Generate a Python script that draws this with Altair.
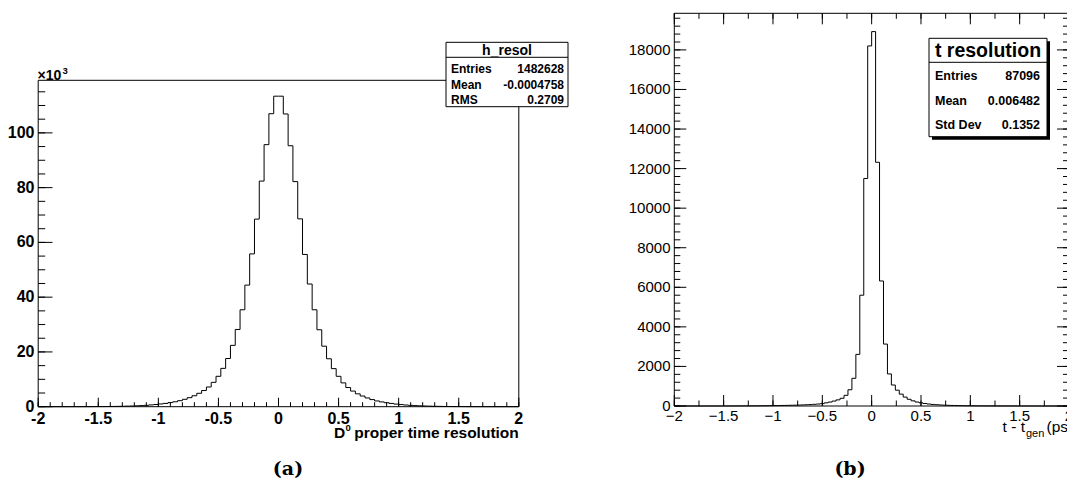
import altair as alt
import pandas as pd

# ---------------- data ----------------
bin_width = 0.04
x_lo = -2.0

# panel (a): entries per bin (x10^3), bins of 0.04 from -2 to 0 and from 0 to 2
a_counts_neg = [0, 0.001, 0.001, 0.002, 0.003, 0.004, 0.006, 0.008, 0.01, 0.015,
                0.02, 0.03, 0.04, 0.05, 0.07, 0.09, 0.12, 0.15, 0.2, 0.25,
                0.32, 0.4, 0.5, 0.65, 0.8, 1.0, 1.2, 1.5, 1.8, 2.2,
                2.7, 3.3, 4.0, 4.9, 5.9, 7.2, 8.9, 11.1, 14.0, 17.6,
                22.4, 28.2, 35.4, 44.4, 55.8, 68.5, 82.4, 95.7, 107.0, 113.4]
a_counts_pos = [113.4, 106.9, 95.3, 82.2, 68.6, 55.6, 44.8, 35.4, 28.1, 22.1,
                17.5, 13.9, 11.1, 8.7, 7.0, 5.7, 4.7, 3.9, 3.2, 2.6,
                2.1, 1.75, 1.45, 1.2, 0.95, 0.78, 0.62, 0.5, 0.4, 0.32,
                0.25, 0.2, 0.15, 0.12, 0.09, 0.07, 0.05, 0.04, 0.03, 0.02,
                0.015, 0.01, 0.008, 0.006, 0.004, 0.003, 0.002, 0.001, 0.001, 0]

# panel (b): entries per bin, bins of 0.04
b_counts_neg = [0, 0, 0, 0, 0, 0, 0, 1, 1, 1,
                1, 1, 2, 2, 3, 3, 4, 5, 6, 7,
                8, 10, 12, 14, 17, 20, 23, 27, 31, 36,
                41, 47, 54, 62, 72, 85, 100, 120, 160, 200,
                250, 310, 390, 540, 820, 1400, 2610, 5600, 11500, 18200]
b_counts_pos = [18925, 12320, 6320, 3130, 1620, 1060, 800, 600, 450, 340,
                260, 200, 160, 125, 100, 80, 65, 52, 42, 34,
                28, 23, 19, 15, 12, 10, 8, 7, 6, 5,
                4, 3, 3, 2, 2, 1, 1, 1, 1, 1,
                0, 0, 0, 0, 0, 0, 0, 0, 0, 0]

a_xtick_values = [-2, -1.5, -1, -0.5, 0, 0.5, 1, 1.5, 2]
a_xtick_labels = ["-2", "-1.5", "-1", "-0.5", "0", "0.5", "1", "1.5", "2"]
a_ytick_values = [0, 20, 40, 60, 80, 100]
a_ytick_labels = ["0", "20", "40", "60", "80", "100"]

b_xtick_values = [-2, -1.5, -1, -0.5, 0, 0.5, 1, 1.5, 2]
b_xtick_labels = ["\u22122", "\u22121.5", "\u22121", "\u22120.5", "0", "0.5", "1", "1.5", "2"]
b_ytick_values = [0, 2000, 4000, 6000, 8000, 10000, 12000, 14000, 16000, 18000]
b_ytick_labels = ["0", "2000", "4000", "6000", "8000", "10000", "12000", "14000", "16000", "18000"]

a_stats_title = "h_resol"
a_stats_names = ["Entries", "Mean", "RMS"]
a_stats_values = ["1482628", "-0.0004758", "0.2709"]
b_stats_title = "t resolution"
b_stats_names = ["Entries", "Mean", "Std Dev"]
b_stats_values = ["87096", "0.006482", "0.1352"]

SANS = "Liberation Sans"
SERIF = "DejaVu Serif"

# ---------------- scales ----------------
XA = alt.Scale(domain=[-2, 2], range=[38.2, 518.8], nice=False, zero=False)
YA = alt.Scale(domain=[0, 119.2], range=[406.7, 80.3], nice=False, zero=False)
XB = alt.Scale(domain=[-2, 2], range=[674.3, 1069.0], nice=False, zero=False)
YB = alt.Scale(domain=[0, 19850], range=[406.0, 13.3], nice=False, zero=False)


def hist_df(counts):
    edges = [round(x_lo + i * bin_width, 4) for i in range(len(counts) + 1)]
    return pd.DataFrame({"x": edges, "y": list(counts) + [counts[-1]]})


def hist(counts, xs, ys):
    return alt.Chart(hist_df(counts)).mark_line(
        interpolate="step-after", color="black", strokeWidth=1
    ).encode(x=alt.X("x:Q", scale=xs, axis=None), y=alt.Y("y:Q", scale=ys, axis=None))


def frame(xs, ys, top):
    df = pd.DataFrame({"x1": [-2], "x2": [2], "y1": [0], "y2": [top]})
    return alt.Chart(df).mark_rect(fillOpacity=0, stroke="black", strokeWidth=1).encode(
        x=alt.X("x1:Q", scale=xs, axis=None), x2="x2:Q",
        y=alt.Y("y1:Q", scale=ys, axis=None), y2="y2:Q")


def xticks(vals, xs, y0, y1):
    df = pd.DataFrame({"v": vals})
    return alt.Chart(df).mark_rule(color="black", strokeWidth=1).encode(
        x=alt.X("v:Q", scale=xs, axis=None), y=alt.value(y0), y2=alt.value(y1))


def yticks(vals, ys, x0, x1):
    df = pd.DataFrame({"v": vals})
    return alt.Chart(df).mark_rule(color="black", strokeWidth=1).encode(
        y=alt.Y("v:Q", scale=ys, axis=None), x=alt.value(x0), x2=alt.value(x1))


def xlabels(vals, labels, xs, y, **kw):
    df = pd.DataFrame({"v": vals, "t": labels})
    return alt.Chart(df).mark_text(align="center", baseline="top", font=SANS, color="black", **kw).encode(
        x=alt.X("v:Q", scale=xs, axis=None), y=alt.value(y), text="t:N")


def ylabels(vals, labels, ys, x, **kw):
    df = pd.DataFrame({"v": vals, "t": labels})
    return alt.Chart(df).mark_text(align="right", baseline="middle", font=SANS, color="black", **kw).encode(
        y=alt.Y("v:Q", scale=ys, axis=None), x=alt.value(x), text="t:N")


def txt(texts, pxs, pys, **kw):
    df = pd.DataFrame({"t": texts, "px": pxs, "py": pys})
    return alt.Chart(df).mark_text(color="black", **kw).encode(
        x=alt.X("px:Q", scale=None, axis=None), y=alt.Y("py:Q", scale=None, axis=None), text="t:N")


def box(x0, x1, y0, y1, **kw):
    return alt.Chart(pd.DataFrame({"a": [0]})).mark_rect(**kw).encode(
        x=alt.value(x0), x2=alt.value(x1), y=alt.value(y0), y2=alt.value(y1))


def hline(x0, x1, y):
    return alt.Chart(pd.DataFrame({"a": [0]})).mark_rule(color="black", strokeWidth=1).encode(
        x=alt.value(x0), x2=alt.value(x1), y=alt.value(y))


def rng(a, b, step):
    n = int(round((b - a) / step))
    return [round(a + i * step, 4) for i in range(n + 1)]


layers = []

# ---------------- panel (a) ----------------
layers.append(hist(a_counts_neg + a_counts_pos, XA, YA))
layers.append(frame(XA, YA, 119.2))
layers.append(xticks(rng(-2, 2, 0.5), XA, 406.7, 397.7))
layers.append(xticks(rng(-2, 2, 0.1), XA, 406.7, 402.2))
layers.append(yticks(rng(0, 100, 20), YA, 38.2, 52.5))
layers.append(yticks(rng(0, 115, 5), YA, 38.2, 45.2))
layers.append(xlabels(a_xtick_values, a_xtick_labels, XA, 410.5, fontSize=16, fontWeight="bold"))
layers.append(ylabels(a_ytick_values, a_ytick_labels, YA, 34.5, fontSize=16, fontWeight="bold"))
layers.append(txt(["\u00d710"], [37.5], [80], align="left", baseline="alphabetic",
                  font=SANS, fontSize=14, fontWeight="bold"))
layers.append(txt(["3"], [62.5], [74], align="left", baseline="alphabetic",
                  font=SANS, fontSize=9.5, fontWeight="bold"))
layers.append(txt(["D"], [334], [438], align="left", baseline="alphabetic",
                  font=SANS, fontSize=15.5, fontWeight="bold"))
layers.append(txt(["0"], [345.5], [431], align="left", baseline="alphabetic",
                  font=SANS, fontSize=9.5, fontWeight="bold"))
layers.append(txt(["proper time resolution"], [518.8], [438], align="right", baseline="alphabetic",
                  font=SANS, fontSize=15.5, fontWeight="bold"))
# stats box (a)
layers.append(box(446, 568, 42.3, 106.7, fill="white", stroke="black", strokeWidth=1))
layers.append(hline(446, 568, 57.3))
layers.append(txt([a_stats_title], [507], [54.5], align="center", baseline="alphabetic",
                  font=SANS, fontSize=14, fontWeight="bold"))
layers.append(txt(a_stats_names, [451, 451, 451], [73.3, 88.5, 104], align="left",
                  baseline="alphabetic", font=SANS, fontSize=12, fontWeight="bold"))
layers.append(txt(a_stats_values, [564, 564, 564], [73.3, 88.5, 104], align="right",
                  baseline="alphabetic", font=SANS, fontSize=12, fontWeight="bold"))

# ---------------- panel (b) ----------------
layers.append(hist(b_counts_neg + b_counts_pos, XB, YB))
layers.append(frame(XB, YB, 19850))
layers.append(xticks(rng(-2, 2, 0.5), XB, 406.0, 395.0))
layers.append(xticks(rng(-2, 2, 0.25), XB, 406.0, 400.5))
layers.append(xticks(rng(-2, 2, 0.5), XB, 13.3, 24.3))
layers.append(xticks(rng(-2, 2, 0.25), XB, 13.3, 18.8))
layers.append(yticks(rng(0, 18000, 2000), YB, 674.3, 686.3))
layers.append(yticks(rng(0, 19600, 400), YB, 674.3, 680.3))
layers.append(yticks(rng(0, 18000, 2000), YB, 1069.0, 1057.0))
layers.append(yticks(rng(0, 19600, 400), YB, 1069.0, 1063.0))
layers.append(xlabels(b_xtick_values, b_xtick_labels, XB, 409.0, fontSize=15))
layers.append(ylabels(b_ytick_values, b_ytick_labels, YB, 670.5, fontSize=15))
layers.append(txt(["t - t"], [1025], [432], align="right", baseline="alphabetic",
                  font=SANS, fontSize=15.5))
layers.append(txt(["gen"], [1026], [437], align="left", baseline="alphabetic",
                  font=SANS, fontSize=11))
layers.append(txt(["(ps)"], [1046.5], [432], align="left", baseline="alphabetic",
                  font=SANS, fontSize=15.5))
# stats box (b) with shadow
layers.append(box(932, 1050, 41.3, 139.7, fill="black"))
layers.append(box(929, 1047, 38.3, 136.7, fill="white", stroke="black", strokeWidth=1))
layers.append(hline(929, 1047, 62.3))
layers.append(txt([b_stats_title], [988], [57], align="center", baseline="alphabetic",
                  font=SANS, fontSize=19.5, fontWeight="bold"))
layers.append(txt(b_stats_names, [935, 935, 935], [80, 105, 128.5], align="left",
                  baseline="alphabetic", font=SANS, fontSize=12.5, fontWeight="bold"))
layers.append(txt(b_stats_values, [1040, 1040, 1040], [80, 105, 128.5], align="right",
                  baseline="alphabetic", font=SANS, fontSize=12.5, fontWeight="bold"))

# ---------------- captions ----------------
layers.append(txt(["(a)", "(b)"], [288, 850], [475, 475], align="center", baseline="alphabetic",
                  font=SERIF, fontSize=19, fontWeight="bold"))

chart = alt.layer(*layers).resolve_scale(x="independent", y="independent").properties(
    width=1067, height=480, padding=0,
    autosize=alt.AutoSizeParams(type="none"),
    background="white",
).configure_view(stroke="transparent")

chart.save("out.html", embed_options={"renderer": "svg", "actions": False})
